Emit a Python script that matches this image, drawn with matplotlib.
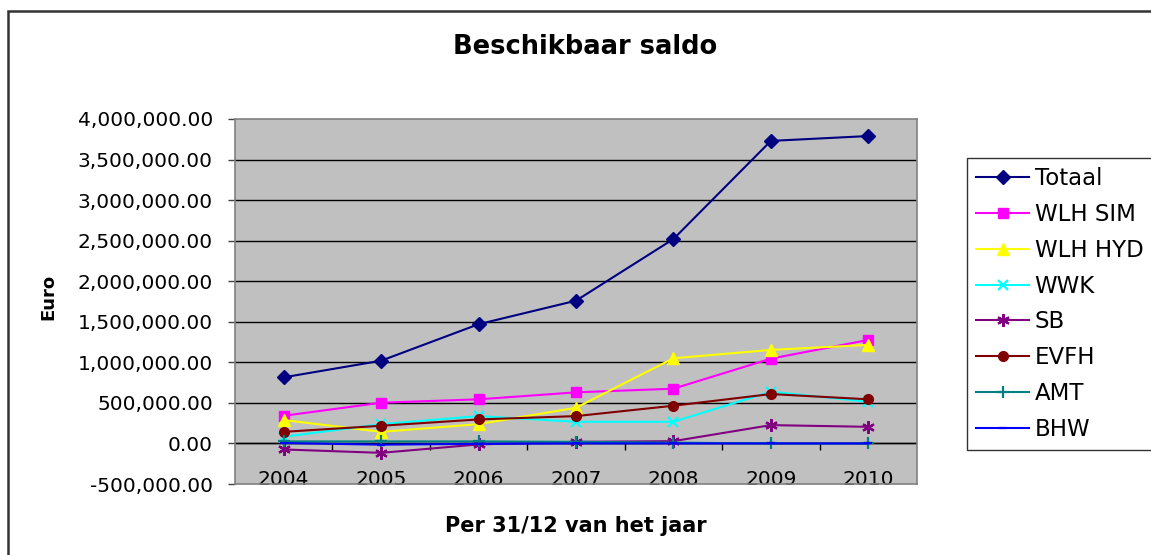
import matplotlib
matplotlib.use("Agg")
import matplotlib.pyplot as plt
import matplotlib.patches as patches
import numpy as np

# Data (Euro, per 31/12)
years = ['2004', '2005', '2006', '2007', '2008', '2009', '2010']
totaal = [815000, 1020000, 1470000, 1760000, 2520000, 3730000, 3790000]
wlh_sim = [341000, 502000, 544000, 630000, 675000, 1045000, 1276000]
wlh_hyd = [288000, 143000, 238000, 440000, 1050000, 1153000, 1215000]
wwk = [82000, 238000, 337000, 267000, 267000, 638000, 514000]
sb = [-74000, -116000, -12000, 20000, 28000, 226000, 205000]
evfh = [143000, 218000, 296000, 337000, 465000, 609000, 544000]
amt = [25000, 25000, 25000, 20000, 10000, 0, 0]
bhw = [5000, -15000, -5000, 0, 0, 0, 0]

series = [
    ('Totaal', totaal, '#000080', 'D', 7),
    ('WLH SIM', wlh_sim, '#FF00FF', 's', 6.5),
    ('WLH HYD', wlh_hyd, '#FFFF00', '^', 8),
    ('WWK', wwk, '#00FFFF', 'x', 7),
    ('SB', sb, '#800080', (6, 2, 0), 9),
    ('EVFH', evfh, '#800000', 'o', 7),
    ('AMT', amt, '#008080', '+', 9),
    ('BHW', bhw, '#0000FF', '_', 6),
]

W, H = 1151, 555
fig = plt.figure(figsize=(W / 100, H / 100), dpi=100)

# chart area border (runs off the right and bottom edge)
fig.patches.append(patches.Rectangle((8 / W, -0.05), 1.1, 1 - 11 / H + 0.05,
                                     transform=fig.transFigure, fill=False,
                                     edgecolor='#333333', linewidth=1.8))

ax = fig.add_axes([235 / W, 1 - 484 / H, (917 - 235) / W, (484 - 119) / H])
ax.set_facecolor('#C0C0C0')

x = np.arange(len(years))
for name, vals, col, mk, ms in series:
    mew = 1.6 if mk in ('x', '+', '_') or isinstance(mk, tuple) else 1
    ax.plot(x, vals, color=col, linewidth=1.5, marker=mk, markersize=ms,
            markeredgewidth=mew, markeredgecolor=col, label=name, zorder=3)

ax.set_xlim(-0.5, len(years) - 0.5)
ax.set_ylim(-500000, 4000000)
yt = np.arange(-500000, 4000001, 500000)
ax.set_yticks(yt)
ax.set_yticklabels(['{:,.2f}'.format(v) for v in yt], fontsize=14.5)
ax.tick_params(axis='y', length=5, width=1, color='#404040', pad=11)
for v in yt[1:-1]:
    ax.axhline(v, color='black', linewidth=1, zorder=1)

# category axis at zero with ticks between categories
ax.axhline(0, color='black', linewidth=1, zorder=2)
ax.vlines(x[:-1] + 0.5, -86000, 0, color='black', linewidth=1, zorder=2)
ax.set_xticks(x)
ax.set_xticklabels(years, fontsize=14.5)
ax.tick_params(axis='x', length=0, pad=-10)

for s in ax.spines.values():
    s.set_color('#808080')
    s.set_linewidth(1.2)

fig.text(585 / W, 1 - 47 / H, 'Beschikbaar saldo', fontsize=18.5,
         fontweight='bold', ha='center', va='center')
fig.text(576 / W, 1 - 532 / H, 'Per 31/12 van het jaar', fontsize=15,
         fontweight='bold', ha='center', va='baseline')
fig.text(48 / W, 1 - 297 / H, 'Euro', fontsize=13, fontweight='bold',
         rotation=90, ha='center', va='center')

leg = fig.legend(loc='upper left', bbox_to_anchor=(967 / W, 1 - 158 / H),
                 bbox_transform=fig.transFigure, fontsize=16.5,
                 frameon=True, fancybox=False, edgecolor='black',
                 handlelength=2.3, handletextpad=0.25, labelspacing=0.56,
                 borderpad=0.4, borderaxespad=0)
leg.get_frame().set_linewidth(1)

fig.savefig('out.png', dpi=100)
